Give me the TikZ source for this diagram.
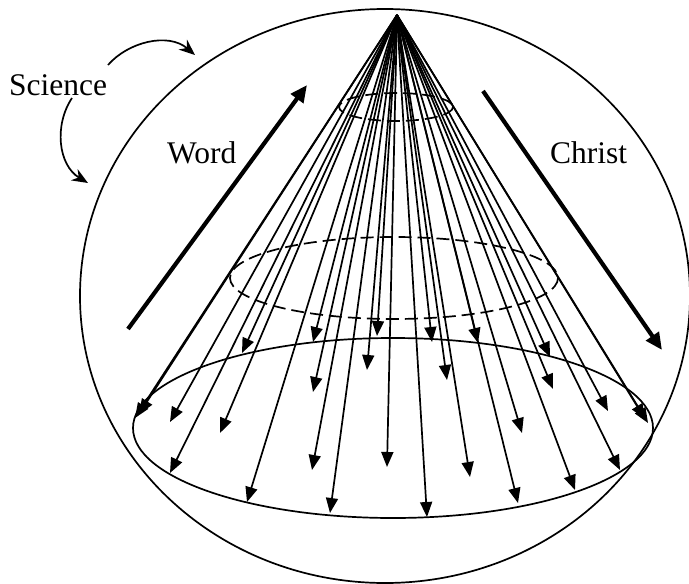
\documentclass[tikz,border=0pt]{standalone}
\usepackage{fontspec}
\setmainfont{Liberation Serif}
\usetikzlibrary{arrows.meta}

\begin{document}
\begin{tikzpicture}[
  x=1pt, y=-1pt,
  ray/.style={line width=1.7pt, -{Triangle[length=15pt, width=12pt]}},
  bold/.style={line width=4.2pt, -{Triangle[length=17pt, width=15pt]}},
  ring/.style={line width=1.7pt},
  dashring/.style={ring, dash pattern=on 13pt off 6pt},
  curl/.style={line width=1.7pt, -{Stealth[length=16pt, width=13pt]}},
  word/.style={font=\fontsize{31.5}{36}\selectfont, inner sep=0pt, anchor=base west}
]
\useasboundingbox (0,0) rectangle (689,584);

% outer sphere
\draw[ring] (385,296) ellipse [x radius=305, y radius=287];

% cone sections, top to bottom
\draw[dashring] (396,107) ellipse [x radius=57, y radius=14];
\draw[dashring] (394,278) ellipse [x radius=164, y radius=41];
\draw[ring] (393,428) ellipse [x radius=260, y radius=90];

% rays from the apex
\coordinate (apex) at (397,15);
\foreach \x/\y [count=\i] in {135/418, 139/414, 170/422, 170/473, 220/433,
    242/353, 247/502, 313/342, 313/392, 312/470, 330/513, 367/370, 377/336,
    387/467, 427/517, 432/342, 447/380, 470/477, 478/343, 518/503, 522/433,
    550/357, 553/389, 575/490, 608/411, 620/470, 648/423, 645/419} {
  \coordinate (tip\i) at (\x,\y);
  \draw[ray] (apex) -- (tip\i);
}

% labels and their arrows
\node[word] (science) at (9,95) {Science};
\node[word] (word) at (167,163) {Word};
\node[word] (christ) at (550,163) {Christ};

\coordinate (wordlo) at (128,329);
\coordinate (wordhi) at (307,85);
\draw[bold] (wordlo) -- (wordhi);
\coordinate (christhi) at (483,91);
\coordinate (christlo) at (662,350);
\draw[bold] (christhi) -- (christlo);

\coordinate (scitop) at (195,55);
\coordinate (scibot) at (88,183);
\draw[curl] (108,65) .. controls (128,42) and (168,32) .. (scitop);
\draw[curl] (72,98) .. controls (54,125) and (58,165) .. (scibot);

\end{tikzpicture}
\end{document}
